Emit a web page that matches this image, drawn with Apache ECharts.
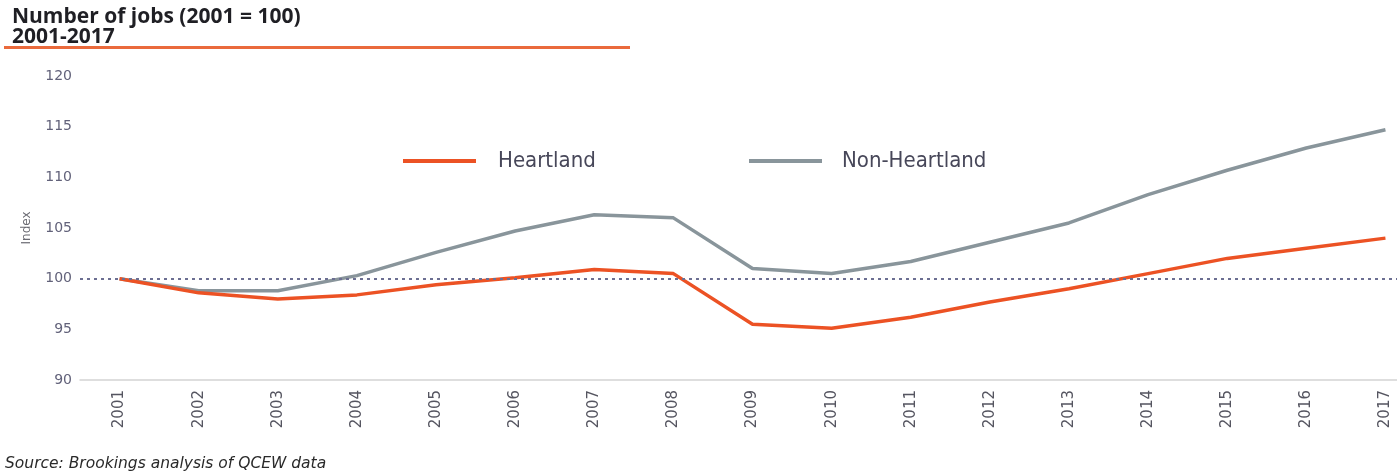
<!DOCTYPE html>
<html><head><meta charset="utf-8">
<script src="https://cdn.jsdelivr.net/npm/echarts@6/dist/echarts.min.js"></script>
<style>html,body{margin:0;padding:0;background:#fff}#c{width:1397px;height:476px}</style>
</head><body><div id="c"></div>
<script>
const years = ['2001','2002','2003','2004','2005','2006','2007','2008','2009','2010','2011','2012','2013','2014','2015','2016','2017'];
const heartland = [100, 98.6, 98.0, 98.4, 99.4, 100.1, 100.9, 100.5, 95.5, 95.1, 96.2, 97.7, 99.0, 100.5, 102.0, 103.0, 104.0];
const nonHeartland = [100, 98.8, 98.8, 100.3, 102.6, 104.7, 106.3, 106.0, 101.0, 100.5, 101.7, 103.6, 105.5, 108.3, 110.7, 112.9, 114.7];
const yTicks = {min: 90, max: 120, interval: 5};
const baseline = 100;

const chart = echarts.init(document.getElementById('c'));
const F = '"DejaVu Sans", sans-serif';
const FC = '"DejaVu Sans Condensed", "DejaVu Sans", sans-serif';
chart.setOption({
  animation: false,
  textStyle: {fontFamily: F},
  title: [{
    text: 'Number of jobs (2001 = 100)\n2001-2017',
    left: 7, top: 2,
    textStyle: {fontFamily: '"Open Sans", sans-serif', fontWeight: 'bold', fontSize: 21, lineHeight: 20, color: '#1f1f24'}
  }, {
    text: 'Source: Brookings analysis of QCEW data',
    left: 0, top: 451,
    textStyle: {fontFamily: F, fontStyle: 'italic', fontWeight: 'normal', fontSize: 15.5, color: '#2a2a2a'}
  }],
  graphic: [{
    type: 'rect', shape: {x: 4, y: 46, width: 626, height: 3},
    style: {fill: '#ea6a3c'}, silent: true
  }],
  legend: [{
    data: [{name: 'Heartland'}],
    left: 398, top: 145,
    itemWidth: 73, itemHeight: 4,
    icon: 'rect',
    textStyle: {fontFamily: FC, fontSize: 22, color: '#474759', padding: [0, 0, 0, 17]}
  }, {
    data: [{name: 'Non-Heartland'}],
    left: 744, top: 145,
    itemWidth: 73, itemHeight: 4,
    icon: 'rect',
    textStyle: {fontFamily: FC, fontSize: 22, color: '#474759', padding: [0, 0, 0, 15]}
  }],
  grid: {left: 80, top: 76, width: 1345, bottom: 96, outerBoundsMode: 'none'},
  xAxis: {
    type: 'category', data: years, boundaryGap: true,
    axisLine: {lineStyle: {color: '#d4d4d4', width: 1.5}},
    axisTick: {show: false},
    axisLabel: {rotate: 90, fontSize: 15, color: '#555560', margin: 10}
  },
  yAxis: {
    type: 'value', min: yTicks.min, max: yTicks.max, interval: yTicks.interval,
    name: 'Index', nameLocation: 'middle', nameGap: 47, nameRotate: 90, nameMoveOverlap: false,
    nameTextStyle: {fontFamily: F, fontSize: 12, color: '#6a6a72'},
    axisLine: {show: false}, axisTick: {show: false}, splitLine: {show: false},
    axisLabel: {fontSize: 14, color: '#62627a', margin: 8}
  },
  series: [{
    name: 'Heartland', type: 'line', data: heartland,
    symbol: 'none', lineStyle: {color: '#ec5224', width: 3.5}, itemStyle: {color: '#ec5224'},
    z: 3,
    markLine: {
      silent: true, symbol: 'none', label: {show: false},
      lineStyle: {color: '#6c6f92', type: [3, 4], width: 2},
      data: [{yAxis: baseline}]
    }
  }, {
    name: 'Non-Heartland', type: 'line', data: nonHeartland,
    symbol: 'none', lineStyle: {color: '#89959b', width: 3.5}, itemStyle: {color: '#89959b'},
    z: 2
  }]
});
</script></body></html>
